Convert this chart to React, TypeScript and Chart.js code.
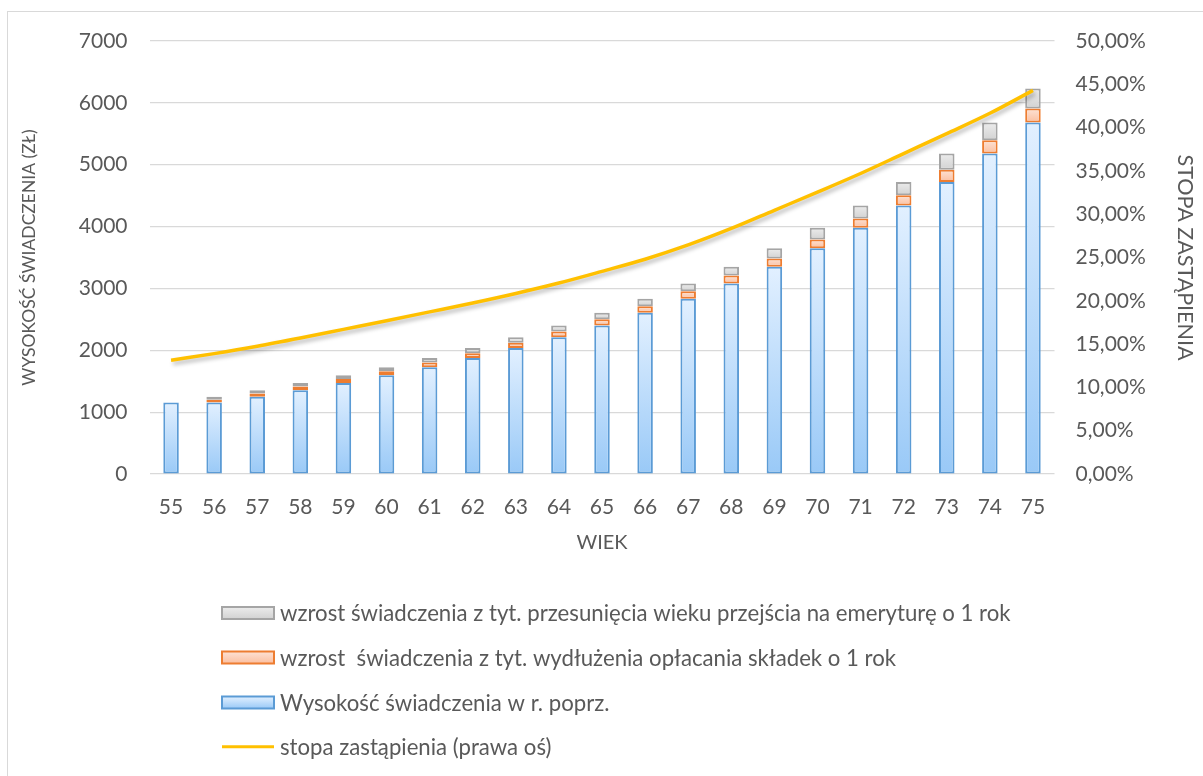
import React, { useEffect, useRef } from 'react';
import { Chart, registerables } from 'chart.js';

Chart.register(...registerables);

// ---- data ----
const ages = ['55', '56', '57', '58', '59', '60', '61', '62', '63', '64', '65', '66', '67', '68', '69', '70', '71', '72', '73', '74', '75'];
const prevBenefit = [1155, 1155, 1249, 1355, 1470, 1595, 1725, 1875, 2035, 2210, 2400, 2605, 2835, 3078, 3349, 3650, 3979, 4340, 4722, 5181, 5682];
const contribIncrease = [0, 45, 52, 58, 64, 68, 76, 78, 86, 94, 100, 108, 120, 130, 136, 142, 152, 168, 195, 215, 226];
const delayIncrease = [0, 49, 54, 57, 61, 62, 74, 82, 89, 96, 105, 122, 123, 141, 165, 187, 209, 214, 264, 286, 323];
const replacementRate = [13.13, 13.9, 14.75, 15.7, 16.7, 17.7, 18.72, 19.75, 20.85, 22.05, 23.4, 24.8, 26.45, 28.35, 30.45, 32.55, 34.7, 37.0, 39.3, 41.65, 44.3];

const labelDelay = 'wzrost świadczenia z tyt. przesunięcia wieku przejścia na emeryturę o 1 rok';
const labelContrib = 'wzrost  świadczenia z tyt. wydłużenia opłacania składek o 1 rok';
const labelPrev = 'Wysokość świadczenia w r. poprz.';
const labelRate = 'stopa zastąpienia (prawa oś)';

const leftTitle = 'WYSOKOŚĆ ŚWIADCZENIA (ZŁ)';
const rightTitle = 'STOPA ZASTĄPIENIA';
const xTitle = 'WIEK';

const FONT = 'Lato, "Open Sans", sans-serif';
const TEXT = '#595959';
const TICK_FS = 21;
const LEGEND_FS = 22.2;

const BLUE = { top: '#e2f0ff', bot: '#99c9f7', border: '#5b9bd5' };
const ORANGE = { top: '#fde2d4', bot: '#fbbfa0', border: '#ed7d31' };
const GRAY = { top: '#ececec', bot: '#d2d2d2', border: '#a5a5a5' };
const LINE = '#ffc000';

function segBounds(i: number, ds: number): [number, number] {
  const b = prevBenefit[i];
  const o = contribIncrease[i];
  const g = delayIncrease[i];
  if (ds === 0) return [0, b];
  if (ds === 1) return [b, b + o];
  return [b + o, b + o + g];
}

function makeFill(ds: number, c: { top: string; bot: string }) {
  return (ctx: any) => {
    const chart = ctx.chart;
    const ys = chart.scales && chart.scales.y;
    if (ctx.type !== 'data' || !ys || !chart.chartArea) return c.bot;
    const [lo, hi] = segBounds(ctx.dataIndex, ds);
    const y0 = ys.getPixelForValue(hi);
    let y1 = ys.getPixelForValue(lo);
    if (y1 - y0 < 1) y1 = y0 + 1;
    const g = chart.ctx.createLinearGradient(0, y0, 0, y1);
    g.addColorStop(0, c.top);
    g.addColorStop(1, c.bot);
    return g;
  };
}

const shadowPlugin = {
  id: 'lineShadow',
  beforeDatasetDraw(chart: any, args: any) {
    const ctx = chart.ctx;
    ctx.save();
    if (args.meta.type === 'line') {
      ctx.shadowColor = 'rgba(0,0,0,0.28)';
      ctx.shadowBlur = 4;
      ctx.shadowOffsetX = 2;
      ctx.shadowOffsetY = 3;
    }
  },
  afterDatasetDraw(chart: any) {
    chart.ctx.restore();
  },
};

const legendPlugin = {
  id: 'stackLegend',
  afterDraw(chart: any) {
    const ctx = chart.ctx;
    const items = [
      { type: 'box', c: GRAY, text: labelDelay },
      { type: 'box', c: ORANGE, text: labelContrib },
      { type: 'box', c: BLUE, text: labelPrev },
      { type: 'line', c: null as any, text: labelRate },
    ];
    const rows = [601, 645.5, 690.5, 734.7];
    const bx = 214;
    const bw = 52;
    const bh = 12;
    ctx.save();
    ctx.font = `${LEGEND_FS}px ${FONT}`;
    ctx.textBaseline = 'middle';
    ctx.textAlign = 'left';
    items.forEach((it, k) => {
      const cy = rows[k];
      if (it.type === 'box') {
        const g = ctx.createLinearGradient(0, cy - bh / 2, 0, cy + bh / 2);
        g.addColorStop(0, it.c.top);
        g.addColorStop(1, it.c.bot);
        ctx.fillStyle = g;
        ctx.fillRect(bx, cy - bh / 2, bw, bh);
        ctx.strokeStyle = it.c.border;
        ctx.lineWidth = 2;
        ctx.strokeRect(bx, cy - bh / 2, bw, bh);
      } else {
        ctx.strokeStyle = LINE;
        ctx.lineWidth = 3;
        ctx.beginPath();
        ctx.moveTo(bx, cy);
        ctx.lineTo(bx + bw, cy);
        ctx.stroke();
      }
      ctx.fillStyle = TEXT;
      ctx.fillText(it.text, 272, cy + 1);
    });
    ctx.restore();
  },
};

export default function App() {
  const ref = useRef<HTMLCanvasElement>(null);

  useEffect(() => {
    const canvas = ref.current;
    if (!canvas) return;
    const font = { family: FONT, size: TICK_FS };
    const chart = new Chart(canvas, {
      type: 'bar',
      data: {
        labels: ages,
        datasets: [
          {
            type: 'line',
            label: labelRate,
            data: replacementRate,
            yAxisID: 'y1',
            borderColor: LINE,
            backgroundColor: LINE,
            borderWidth: 3.5,
            pointRadius: 0,
            cubicInterpolationMode: 'monotone',
            order: 0,
          } as any,
          {
            label: labelPrev,
            data: prevBenefit,
            backgroundColor: makeFill(0, BLUE),
            borderColor: BLUE.border,
            borderWidth: 2,
            borderSkipped: false,
            stack: 's',
            order: 1,
          },
          {
            label: labelContrib,
            data: contribIncrease,
            backgroundColor: makeFill(1, ORANGE),
            borderColor: ORANGE.border,
            borderWidth: 2,
            borderSkipped: false,
            stack: 's',
            order: 1,
          },
          {
            label: labelDelay,
            data: delayIncrease,
            backgroundColor: makeFill(2, GRAY),
            borderColor: GRAY.border,
            borderWidth: 2,
            borderSkipped: false,
            stack: 's',
            order: 1,
          },
        ],
      },
      options: {
        responsive: false,
        animation: false,
        devicePixelRatio: 1,
        datasets: { bar: { categoryPercentage: 1, barPercentage: 0.36 } },
        layout: { padding: { top: 29, bottom: 217, left: 0, right: 0 } },
        plugins: {
          legend: { display: false },
          tooltip: { enabled: false },
        },
        scales: {
          x: {
            stacked: true,
            grid: { display: false },
            border: { display: false },
            ticks: { color: TEXT, font, padding: 13, maxRotation: 0, autoSkip: false },
            title: { display: true, text: xTitle, color: TEXT, font: { family: FONT, size: 20 }, padding: { top: 0, bottom: 4 } },
            afterFit: (s: any) => { s.height = 85; },
          },
          y: {
            stacked: true,
            position: 'left',
            min: 0,
            max: 7000,
            ticks: { stepSize: 1000, color: TEXT, font, padding: 22, callback: (v: any) => String(v) },
            grid: { color: '#d9d9d9', lineWidth: 1.2, drawTicks: false },
            border: { display: false },
            title: { display: true, text: leftTitle, color: TEXT, font: { family: FONT, size: 17.5 }, padding: { top: 11, bottom: 0 } },
            afterFit: (s: any) => { s.width = 141.5; s.paddingTop = 12; s.paddingBottom = 12; },
          },
          y1: {
            position: 'right',
            min: 0,
            max: 50,
            ticks: {
              stepSize: 5,
              color: TEXT,
              font,
              padding: 21,
              callback: (v: any) => Number(v).toFixed(2).replace('.', ',') + '%',
            },
            grid: { display: false, drawTicks: false },
            border: { display: false },
            title: { display: true, text: rightTitle, color: TEXT, font: { family: FONT, size: 21.5 }, padding: { top: 5, bottom: 0 } },
            afterFit: (s: any) => { s.width = 148.5; s.paddingTop = 12; s.paddingBottom = 12; },
          },
        },
      },
      plugins: [shadowPlugin, legendPlugin],
    } as any);
    return () => chart.destroy();
  }, []);

  return (
    <div
      style={{
        position: 'absolute',
        left: 7,
        top: 11,
        width: 1195,
        height: 764,
        borderTop: '1px solid #d9d9d9',
        borderLeft: '1px solid #d9d9d9',
        overflow: 'hidden',
        background: '#fff',
      }}
    >
      <canvas ref={ref} width={1195} height={764} style={{ display: 'block' }} />
    </div>
  );
}
